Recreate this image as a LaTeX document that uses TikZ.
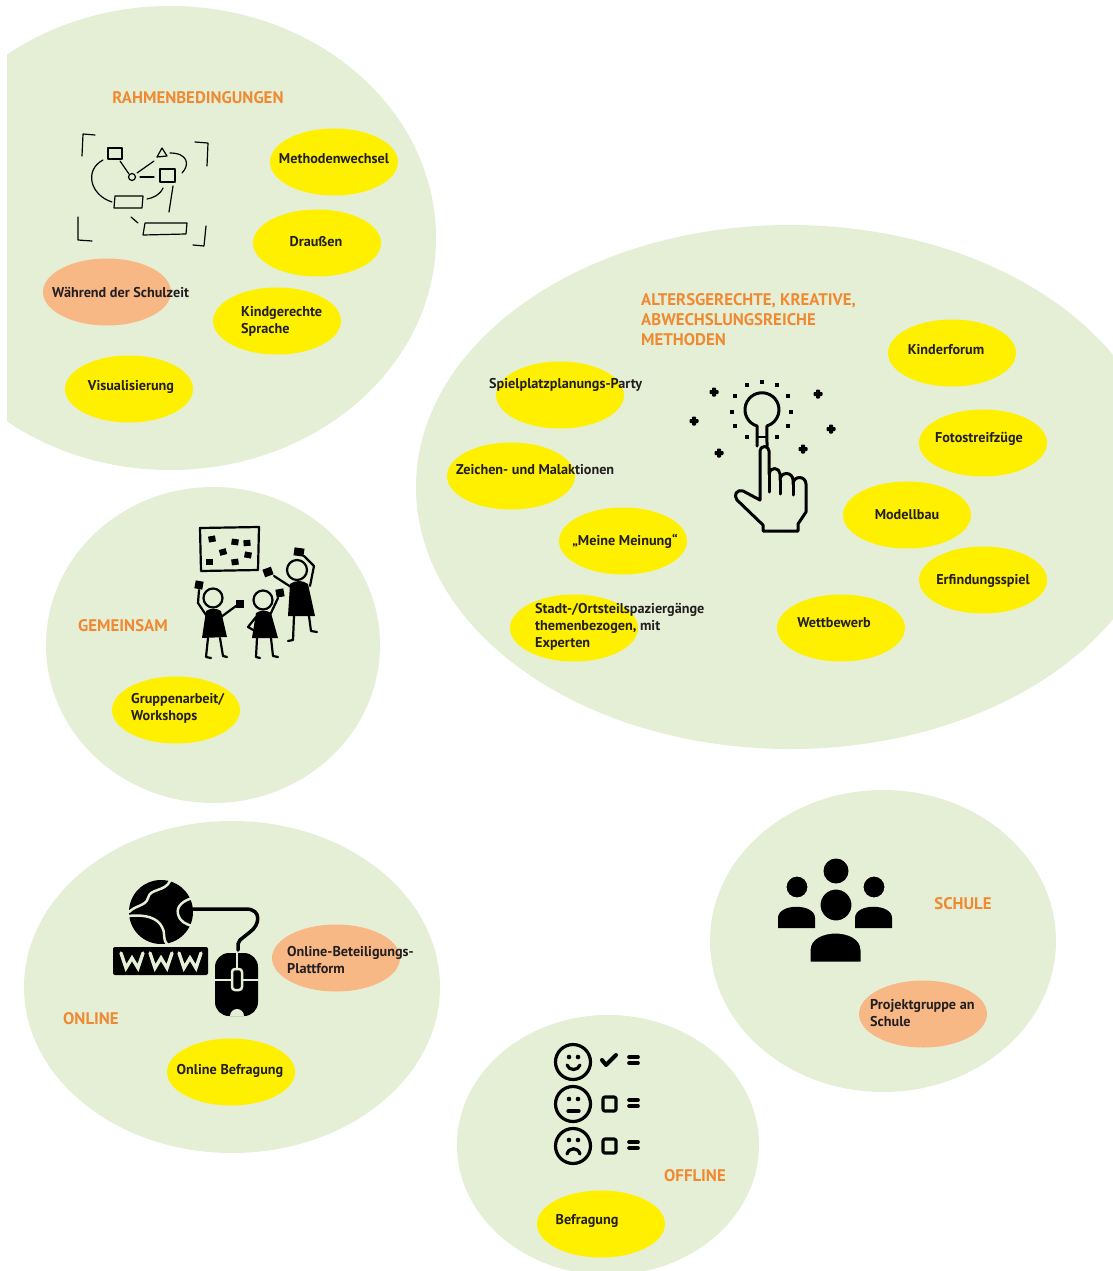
\documentclass[tikz,border=0pt]{standalone}
\usepackage{fontspec}
\setmainfont{PT Sans}
\usetikzlibrary{shapes.geometric}
\definecolor{meadow}{RGB}{229,239,214}
\definecolor{lemon}{RGB}{255,240,0}
\definecolor{apricot}{RGB}{247,184,134}
\definecolor{tangerine}{RGB}{240,138,50}
\definecolor{ink}{RGB}{35,31,32}

\tikzset{
  area/.style={fill=meadow},
  idea/.style={ellipse, fill=lemon, minimum width=128pt, minimum height=67pt, inner sep=0pt},
  frame/.style={idea, fill=apricot},
  lbl/.style={text=ink, font=\bfseries\fontsize{14.2}{17}\selectfont, inner sep=0pt, align=left},
  head/.style={text=tangerine, font=\bfseries\fontsize{16.8}{20}\selectfont, inner sep=0pt, align=left},
}

\begin{document}
\begin{tikzpicture}[line cap=round,line join=round,x=1pt,y=-1pt]
    \useasboundingbox (0,0) rectangle (1113,1271);

    % green areas
    \begin{scope}
        \clip (7,0) rectangle (1113,1271);
        \fill[area] (170,238) ellipse (266 and 232);
        \fill[area] (790,487) ellipse (374 and 262);
    \end{scope}
    \fill[area] (213,645) ellipse (167 and 158);
    \fill[area] (232,987) ellipse (208 and 166);
    \fill[area] (883,941) ellipse (173 and 151);
    \fill[area] (608,1145) ellipse (151 and 130);

    % headings
    \node[head] (h-rahmen) at (198,98) {RAHMENBEDINGUNGEN};
    \node[head, anchor=west] (h-methoden) at (641,320) {ALTERSGERECHTE, KREATIVE,\\ABWECHSLUNGSREICHE\\METHODEN};
    \node[head] (h-gemeinsam) at (123,626) {GEMEINSAM};
    \node[head] (h-online) at (91,1019) {ONLINE};
    \node[head] (h-schule) at (963,904) {SCHULE};
    \node[head] (h-offline) at (695,1176) {OFFLINE};

    % Rahmenbedingungen
    \node[idea] (wechsel) at (334,162) {};
    \node[idea] (draussen) at (317,243) {};
    \node[frame] (schulzeit) at (107,292) {};
    \node[idea] (sprache) at (277,321) {};
    \node[idea] (visual) at (129,389) {};
    \node[lbl] (t-wechsel) at (334,159) {Methodenwechsel};
    \node[lbl] (t-draussen) at (316,242) {Draußen};
    \node[lbl, anchor=west] (t-schulzeit) at (52,292) {Während der Schulzeit};
    \node[lbl, anchor=west] (t-sprache) at (241,321) {Kindgerechte\\Sprache};
    \node[lbl] (t-visual) at (131,387) {Visualisierung};

    % Methoden
    \node[idea] (party) at (560,395) {};
    \node[idea] (malen) at (511,476) {};
    \node[idea] (meinung) at (623,541) {};
    \node[idea] (stadt) at (574,628) {};
    \node[idea] (forum) at (952,353) {};
    \node[idea] (foto) at (983,443) {};
    \node[idea] (modell) at (907,515) {};
    \node[idea] (erfindung) at (983,580) {};
    \node[idea] (wettbewerb) at (841,628) {};
    \node[lbl, anchor=west] (t-party) at (489,385) {Spielplatzplanungs-Party};
    \node[lbl, anchor=west] (t-malen) at (456,470) {Zeichen- und Malaktionen};
    \node[lbl] (t-meinung) at (625,541) {„Meine Meinung“};
    \node[lbl, anchor=west] (t-stadt) at (535,627) {Stadt-/Ortsteilspaziergänge\\themenbezogen, mit\\Experten};
    \node[lbl] (t-forum) at (946,350) {Kinderforum};
    \node[lbl] (t-foto) at (979,439) {Fotostreifzüge};
    \node[lbl] (t-modell) at (907,515) {Modellbau};
    \node[lbl] (t-erfindung) at (983,581) {Erfindungsspiel};
    \node[lbl] (t-wettbewerb) at (834,623) {Wettbewerb};

    % Gemeinsam, Online, Schule, Offline
    \node[idea] (gruppen) at (176,710) {};
    \node[lbl, anchor=west] (t-gruppen) at (131,708) {Gruppenarbeit/\\Workshops};
    \node[frame] (plattform) at (336,958) {};
    \node[lbl, anchor=west] (t-plattform) at (287,960) {Online-Beteiligungs-\\Plattform};
    \node[idea] (umfrage) at (231,1072) {};
    \node[lbl] (t-umfrage) at (230,1071) {Online Befragung};
    \node[frame] (projekt) at (923,1014) {};
    \node[lbl, anchor=west] (t-projekt) at (870,1013) {Projektgruppe an\\Schule};
    \node[idea] (befragung) at (601,1224) {};
    \node[lbl] (t-befragung) at (587,1221) {Befragung};

    % sketch of a plan
    \begin{scope}[line width=1.2pt]
        \draw (95,135) -- (83,134) -- (82,156);
        \draw (195,142) -- (208,143) -- (207,166);
        \draw (78,217) -- (78,240) -- (92,241);
        \draw (206,226) -- (204,246) -- (193,245);
        \draw (108,148) rectangle (122,159);
        \draw (162,148) -- (157,157) -- (167,156) -- cycle;
        \draw (132,177) circle (3.5);
        \draw (160,169) rectangle (175,182);
        \draw (115,196) -- (143,196) -- (142,208) -- (114,208) -- cycle;
        \draw (145,223) -- (187,223) -- (186,234) -- (143,235) -- cycle;
        \draw (120,161) -- (129,174);
        \draw (137,173) -- (154,161);
        \draw (140,177) -- (154,177);
        \draw (103,160) .. controls (84,170) and (90,195) .. (112,202);
        \draw (170,153) .. controls (188,153) and (190,165) .. (182,173);
        \draw (163,188) .. controls (160,195) and (153,198) .. (147,199);
        \draw (173,186) -- (169,212);
        \draw (131,217) -- (138,223);
    \end{scope}

    % people at the board
    \begin{scope}[line width=2.2pt]
        \draw (200,528) -- (259,527) -- (258,570) -- (201,571) -- cycle;
        \foreach \x/\y/\r in {212/539/10, 235/542/-8, 247/543/5, 223/552/15, 248/555/-10, 209/562/0, 235/562/8}
            \fill[shift={(\x,\y)}, rotate=\r] (-3.5,-3) rectangle (3.5,3);
        % left
        \draw (213,598) circle (9.5);
        \fill (206,611) .. controls (210,608) and (217,608) .. (221,611) -- (227,637) -- (202,638) -- cycle;
        \draw (208,638) -- (206,657) -- (211,658);
        \draw (220,638) -- (223,656) -- (227,657);
        \draw (206,615) -- (198,603) -- (199,590);
        \fill[shift={(199,585)}, rotate=-10] (-4,-4) rectangle (4,4);
        \draw (221,617) -- (236,606);
        \fill[shift={(240,604)}] (-4,-4) rectangle (4,4);
        % middle
        \draw (263,600) circle (9.5);
        \fill (256,613) .. controls (260,610) and (267,610) .. (271,613) -- (278,638) -- (252,638) -- cycle;
        \draw (257,638) -- (256,657) -- (260,658);
        \draw (271,638) -- (273,656) -- (278,657);
        \draw (256,617) -- (248,627) -- (255,631);
        \draw (270,615) -- (278,598);
        \fill[shift={(280,593)}, rotate=10] (-4,-4) rectangle (4,4);
        % right
        \draw (297,570) circle (10);
        \fill (290,584) .. controls (295,580) and (303,580) .. (308,584) -- (315,616) -- (288,616) -- cycle;
        \draw (294,616) -- (293,640) -- (288,641);
        \draw (309,616) -- (311,631) -- (317,632);
        \draw (310,586) -- (314,566) -- (304,556);
        \fill[shift={(299,552)}, rotate=-8] (-5,-4) rectangle (5,4);
        \draw (291,587) -- (274,576);
        \fill[shift={(268,572)}, rotate=20] (-4.5,-4) rectangle (4.5,4);
    \end{scope}

    % bulb and hand
    \begin{scope}[line width=3pt]
        \draw (757,446) -- (757,426) arc[start angle=107, end angle=433, radius=17] -- (767,446);
        \draw[line width=2pt] (757,437) -- (767,437);
        \foreach \x/\y in {762/382, 747/385, 777/385, 735/396, 788/396, 732/412, 791/412, 735/426, 788/426, 747/437, 777/437}
            \fill[shift={(\x,\y)}] (-2,-2) rectangle (2,2);
        \foreach \x/\y in {714/392, 694/421, 719/453, 818/394, 831/429, 803/449}
            \fill[shift={(\x,\y)}, rounded corners=0.8pt] (-4.5,-2) rectangle (4.5,2) (-2,-4.5) rectangle (2,4.5);
        \draw (760,500) -- (760,451) arc[start angle=180, end angle=360, radius=4.5]
            -- (769,474) arc[start angle=180, end angle=360, radius=5.5]
            -- (780,480) arc[start angle=180, end angle=360, radius=6.5]
            -- (793,484) arc[start angle=180, end angle=360, radius=6.5]
            -- (806,512) -- (798,524) -- (798,531) -- (763,531) -- (763,525) -- (737,500)
            .. controls (733,495) and (737,489) .. (743,491) -- cycle;
        \draw (769,474) -- (769,492);
        \draw (780,480) -- (780,494);
        \draw (793,484) -- (793,495);
    \end{scope}

    % globe, www and mouse
    \fill (161,912) circle (32);
    \begin{scope}[meadow, line width=2.5pt]
        \draw (170,881) .. controls (165,892) and (150,888) .. (148,898) .. controls (146,906) and (136,905) .. (129,912);
        \draw (129,916) .. controls (145,914) and (158,918) .. (162,927) .. controls (166,934) and (162,938) .. (167,944);
        \draw (193,898) .. controls (184,900) and (176,906) .. (178,914) .. controls (180,922) and (186,924) .. (192,926);
    \end{scope}
    \fill[rounded corners=2pt] (113,947) rectangle (208,975);
    \foreach \x in {121,150,179}
        \draw[meadow, line width=3.4pt, line join=miter] (\x,953) -- (\x+5,968) -- (\x+11,958) -- (\x+17,968) -- (\x+22,953);
    \draw[line width=3.5pt] (192,909) -- (246,909) .. controls (262,909) and (260,925) .. (250,932) -- (240,940) -- (238,944) -- (238,950);
    \fill[rounded corners=14pt] (215,953) rectangle (258,1016);
    \begin{scope}[meadow, line width=2.5pt]
        \draw (215,980) -- (231,980) (243,980) -- (258,980);
        \draw (237,953) -- (237,969);
        \draw[rounded corners=3pt] (232,969) rectangle (242,990);
        \fill (230,1016) arc[start angle=180, end angle=360, radius=7];
    \end{scope}

    % school group
    \fill (836,871) circle (12.5);
    \fill (778,928) -- (778,918) .. controls (778,903) and (815,903) .. (815,918) -- (815,928) -- cycle;
    \fill (855,928) -- (855,918) .. controls (855,903) and (892,903) .. (892,918) -- (892,928) -- cycle;
    \filldraw[draw=meadow, line width=3pt] (797,887) circle (12);
    \filldraw[draw=meadow, line width=3pt] (874,887) circle (12);
    \filldraw[draw=meadow, line width=3pt] (809,963) -- (809,950) .. controls (809,926) and (862,926) .. (862,950) -- (862,963) -- cycle;
    \filldraw[draw=meadow, line width=3pt] (836,905) circle (17);

    % smileys
    \begin{scope}[line width=3.2pt]
        \draw (573,1062) circle (17.5);
        \fill (569,1057) circle (2.3) (578,1057) circle (2.3);
        \draw (567,1065) .. controls (569,1071) and (578,1071) .. (580,1065);
        \draw (573,1104) circle (17.5);
        \fill (569,1099) circle (2.3) (578,1099) circle (2.3);
        \draw (568,1111) -- (579,1111);
        \draw (573,1146) circle (17.5);
        \fill (569,1140) circle (2.3) (578,1140) circle (2.3);
        \draw (567,1154) .. controls (569,1147) and (578,1147) .. (580,1154);
        \draw[line width=4pt] (602,1060) -- (606,1065) -- (616,1055);
        \draw[rounded corners=2pt] (603,1097) rectangle (616,1111);
        \draw[rounded corners=2pt] (603,1139) rectangle (616,1153);
        \foreach \y in {1057,1063,1100,1106,1142,1148}
            \draw[line width=3.6pt] (629,\y) -- (638,\y);
    \end{scope}
\end{tikzpicture}
\end{document}
